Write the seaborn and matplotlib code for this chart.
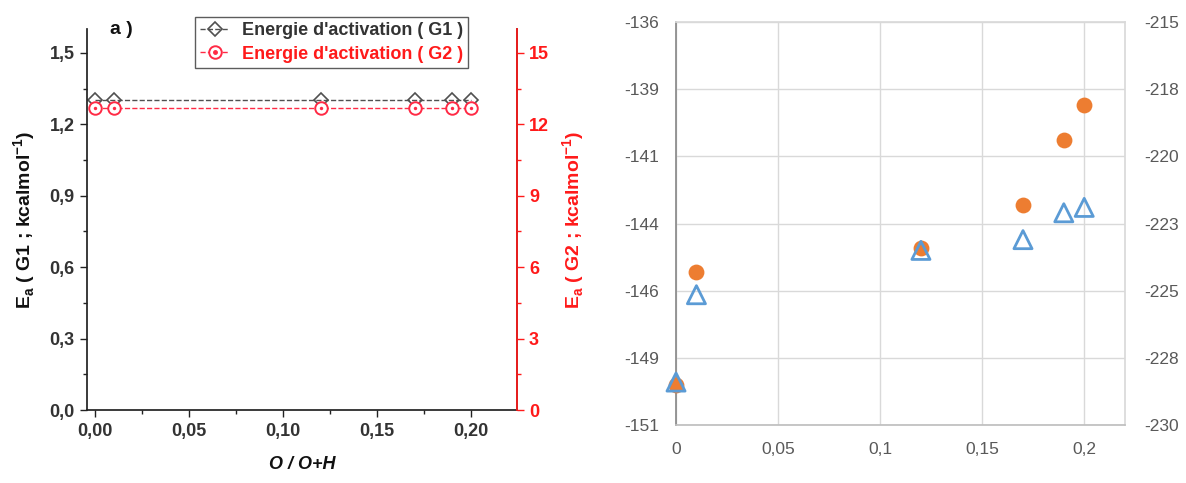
import numpy as np
import seaborn as sns
import matplotlib.pyplot as plt
from matplotlib.lines import Line2D
from matplotlib.ticker import FuncFormatter, MultipleLocator, FixedLocator

# data, left panel (a): activation energies
ratio = [0.0, 0.01, 0.12, 0.17, 0.19, 0.20]
ea_g1 = [1.30, 1.30, 1.30, 1.30, 1.30, 1.30]
ea_g2 = [12.7, 12.7, 12.7, 12.7, 12.7, 12.7]

# data, right panel: orange circles on left axis, blue triangles on right axis
orange_vals = [-149.5, -145.3, -144.4, -142.8, -140.4, -139.1]
blue_vals = [-228.4, -225.15, -223.5, -223.1, -222.1, -221.9]

left_ticks = [-136, -138.5, -141, -143.5, -146, -148.5, -151]
right_ticks = [-215, -217.5, -220, -222.5, -225, -227.5, -230]
x_ticks_right = [0, 0.05, 0.1, 0.15, 0.2]

sns.set_theme(style="white")
plt.rcParams['font.family'] = ['Liberation Sans', 'DejaVu Sans']
plt.rcParams['mathtext.fontset'] = 'custom'
plt.rcParams['mathtext.rm'] = 'Liberation Sans'
plt.rcParams['mathtext.bf'] = 'Liberation Sans:bold'

fig = plt.figure(figsize=(11.86, 4.83), dpi=100)

# ---------- left panel ----------
ax = fig.add_axes([0.0734, 0.151, 0.3626, 0.789])
axr = ax.twinx()
g1c = '#505050'
g2c = '#ff2a45'
red = '#ff1a1a'

sns.lineplot(x=ratio, y=ea_g1, ax=ax, color=g1c, linestyle='--', lw=1,
             marker='D', markersize=7, mfc='none', mec=g1c, mew=1.2)
sns.lineplot(x=ratio, y=ea_g2, ax=axr, color=g2c, linestyle='--', lw=1,
             marker='o', markersize=9, mfc='white', mec=g2c, mew=1.4)
sns.scatterplot(x=ratio, y=ea_g2, ax=axr, color=g2c, s=6, linewidth=0, zorder=5)

ax.set_xlim(-0.0043, 0.2246)
ax.set_ylim(0, 1.6)
axr.set_ylim(0, 16)
ax.yaxis.set_major_locator(MultipleLocator(0.3))
ax.yaxis.set_minor_locator(MultipleLocator(0.15))
ax.xaxis.set_major_locator(MultipleLocator(0.05))
ax.xaxis.set_minor_locator(MultipleLocator(0.025))
axr.yaxis.set_major_locator(MultipleLocator(3))
axr.yaxis.set_minor_locator(MultipleLocator(1.5))
ax.yaxis.set_major_formatter(FuncFormatter(lambda v, p: f"{v:.1f}".replace('.', ',')))
ax.xaxis.set_major_formatter(FuncFormatter(lambda v, p: f"{v:.2f}".replace('.', ',')))

for a in (ax, axr):
    a.spines['top'].set_visible(False)
ax.spines['left'].set_color('#222222')
ax.spines['bottom'].set_color('#222222')
axr.spines['right'].set_color(red)
axr.spines['left'].set_visible(False)
axr.spines['bottom'].set_visible(False)

ax.tick_params(axis='both', which='major', direction='out', length=5, width=1,
               color='#222222', labelsize=13, labelcolor='#333333', pad=4,
               left=True, bottom=True)
ax.tick_params(axis='both', which='minor', direction='out', length=3, width=1,
               color='#222222', left=True, bottom=True)
axr.tick_params(axis='y', which='major', direction='out', length=5, width=1,
                color=red, labelsize=13, labelcolor=red, right=True)
axr.tick_params(axis='y', which='minor', direction='out', length=3, width=1,
                color=red, right=True)
for lab in ax.get_xticklabels() + ax.get_yticklabels() + axr.get_yticklabels():
    lab.set_fontweight('bold')

ax.set_xlabel('O / O+H', fontsize=13, fontweight='bold', fontstyle='italic',
              color='#111111', labelpad=12)
ax.set_ylabel(r'E$_\mathbf{a}$ ( G1 ; kcalmol$^\mathbf{-1}$)', fontsize=14,
              fontweight='bold', color='#111111', labelpad=8)
axr.set_ylabel(r'E$_\mathbf{a}$ ( G2 ; kcalmol$^\mathbf{-1}$)', fontsize=14,
               fontweight='bold', color=red, labelpad=8)

fig.text(0.093, 0.93, 'a )', fontsize=14, fontweight='bold', color='#111111')

h1 = Line2D([], [], color=g1c, linestyle='--', lw=1, marker='D', markersize=7,
            mfc='none', mec=g1c, mew=1.2)
h2 = Line2D([], [], color=g2c, linestyle='--', lw=1, marker='o', markersize=9,
            mfc='white', mec=g2c, mew=1.4)
h2dot = Line2D([], [], linestyle='none', marker='o', markersize=2.5,
               color=g2c, mec=g2c)
leg = fig.legend([h1, (h2, h2dot)],
                 ["Energie d'activation ( G1 )", "Energie d'activation ( G2 )"],
                 loc='upper left', bbox_to_anchor=(195 / 1186, 1 - 17 / 483),
                 frameon=True, fancybox=False, fontsize=13, handlelength=1.6,
                 handletextpad=0.7, borderpad=0.3, labelspacing=0.35,
                 borderaxespad=0)
leg.get_frame().set_edgecolor('#333333')
leg.get_frame().set_linewidth(1)
for t, c in zip(leg.get_texts(), ['#333333', red]):
    t.set_color(c)
    t.set_fontweight('bold')

# ---------- right panel ----------
bx = fig.add_axes([0.570, 0.120, 0.3786, 0.8345])
bxt = bx.twinx()
orange = '#ed7d31'
blue = '#5b9bd5'

sns.scatterplot(x=ratio, y=orange_vals, ax=bx, color=orange, s=130,
                linewidth=0, zorder=3, clip_on=False)
sns.scatterplot(x=ratio, y=blue_vals, ax=bxt, marker='^', s=170,
                facecolors='none', edgecolor=blue, linewidth=2, zorder=4,
                clip_on=False)

bx.set_xlim(0, 0.22)
bx.set_ylim(-151, -136)
bxt.set_ylim(-230, -215)
bx.yaxis.set_major_locator(FixedLocator(left_ticks))
bxt.yaxis.set_major_locator(FixedLocator(right_ticks))
bx.xaxis.set_major_locator(FixedLocator(x_ticks_right))


def excel_round(v, pos):
    return str(int(np.sign(v) * np.floor(abs(v) + 0.5)))


bx.yaxis.set_major_formatter(FuncFormatter(excel_round))
bxt.yaxis.set_major_formatter(FuncFormatter(excel_round))
bx.xaxis.set_major_formatter(FuncFormatter(lambda v, p: ('%g' % v).replace('.', ',')))

bx.grid(True, color='#d9d9d9', lw=1)
bx.set_axisbelow(True)
for s in ('top', 'right'):
    bx.spines[s].set_color('#d9d9d9')
bx.spines['left'].set_color('#8a8a8a')
bx.spines['bottom'].set_color('#bfbfbf')
for s in bxt.spines.values():
    s.set_visible(False)
bx.tick_params(axis='both', length=0, labelsize=12.5, labelcolor='#595959', pad=12)
bxt.tick_params(axis='y', length=0, labelsize=12.5, labelcolor='#595959', pad=14)
bx.set_xlabel('')
bx.set_ylabel('')
bxt.set_ylabel('')

fig.savefig('out.png', dpi=100)
